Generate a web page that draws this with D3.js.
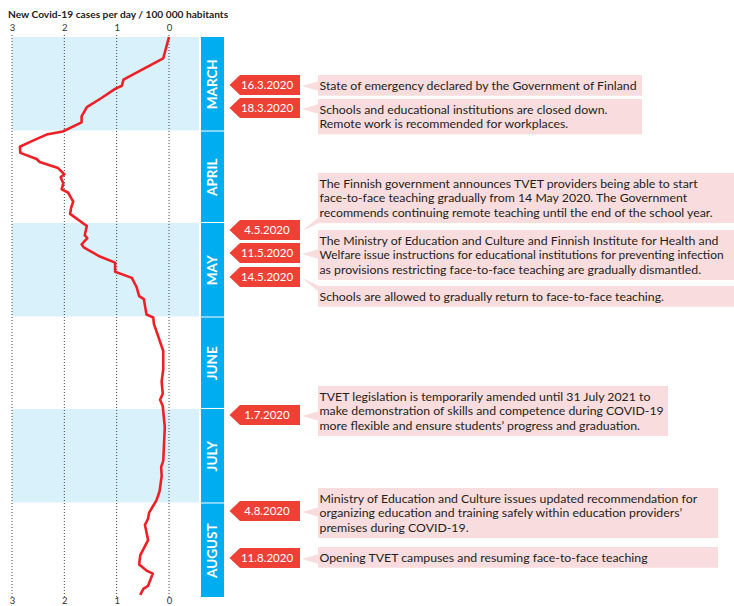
<!DOCTYPE html>
<html>
<head>
<meta charset="utf-8">
<script src="https://d3js.org/d3.v7.min.js"></script>
<style>
  body { margin: 0; background: #fff; }
  svg text { font-family: Lato, "Open Sans", sans-serif; }
</style>
</head>
<body>
<div id="chart"></div>
<script>
// daily new cases per 100 000
var caseDates = [
  "2020-03-01", "2020-03-08", "2020-03-12", "2020-03-15", "2020-03-17", "2020-03-18",
  "2020-03-21", "2020-03-24", "2020-03-27", "2020-03-29", "2020-04-01", "2020-04-02",
  "2020-04-04", "2020-04-06", "2020-04-08", "2020-04-10", "2020-04-11", "2020-04-13",
  "2020-04-15", "2020-04-16", "2020-04-18", "2020-04-20", "2020-04-21", "2020-04-24",
  "2020-04-26", "2020-04-28", "2020-05-02", "2020-05-05", "2020-05-06", "2020-05-08",
  "2020-05-09", "2020-05-12", "2020-05-14", "2020-05-17", "2020-05-19", "2020-05-22",
  "2020-05-25", "2020-05-26", "2020-05-29", "2020-05-31", "2020-06-01", "2020-06-03",
  "2020-06-12", "2020-06-18", "2020-06-22", "2020-06-26", "2020-06-28", "2020-06-30",
  "2020-07-07", "2020-07-18", "2020-07-20", "2020-07-23", "2020-07-28", "2020-07-31",
  "2020-08-02", "2020-08-04", "2020-08-06", "2020-08-08", "2020-08-13", "2020-08-18",
  "2020-08-21", "2020-08-23", "2020-08-24", "2020-08-28", "2020-08-29", "2020-08-31"
];
var caseValues = [
  0.00, 0.11, 0.55, 0.87, 0.90, 1.03,
  1.29, 1.57, 1.67, 1.67, 2.03, 2.34,
  2.60, 2.85, 2.84, 2.53, 2.47, 2.12,
  2.00, 2.07, 2.02, 2.05, 1.93, 1.83,
  1.87, 1.89, 1.57, 1.61, 1.56, 1.67,
  1.63, 1.32, 1.03, 1.03, 0.71, 0.62,
  0.57, 0.48, 0.45, 0.43, 0.30, 0.29,
  0.11, 0.11, 0.14, 0.12, 0.17, 0.12,
  0.08, 0.11, 0.15, 0.14, 0.18, 0.24,
  0.31, 0.38, 0.40, 0.46, 0.40, 0.55,
  0.57, 0.43, 0.31, 0.40, 0.49, 0.55
];

var monthNames = ["MARCH", "APRIL", "MAY", "JUNE", "JULY", "AUGUST"];
var xTicks = [3, 2, 1, 0];

var eventDates = ["16.3.2020", "18.3.2020", "4.5.2020", "11.5.2020", "14.5.2020",
  "1.7.2020", "4.8.2020", "11.8.2020"];
var eventTexts = [
  ["State of emergency declared by the Government of Finland"],
  ["Schools and educational institutions are closed down.",
   "Remote work is recommended for workplaces."],
  ["The Finnish government announces TVET providers being able to start",
   "face-to-face teaching gradually from 14 May 2020. The Government",
   "recommends continuing remote teaching until the end of the school year."],
  ["The Ministry of Education and Culture and Finnish Institute for Health and",
   "Welfare issue instructions for educational institutions for preventing infection",
   "as provisions restricting face-to-face teaching are gradually dismantled."],
  ["Schools are allowed to gradually return to face-to-face teaching."],
  ["TVET legislation is temporarily amended until 31 July 2021 to",
   "make demonstration of skills and competence during COVID-19",
   "more flexible and ensure students\u2019 progress and graduation."],
  ["Ministry of Education and Culture issues updated recommendation for",
   "organizing education and training safely within education providers\u2019",
   "premises during COVID-19."],
  ["Opening TVET campuses and resuming face-to-face teaching"]
];

// annotation layout (hand placed in the original)
var tagMid = [85, 108, 230, 253, 277, 415, 511, 558];
var boxTop = [75, 99, 173, 230, 286, 386, 488, 547];
var boxRight = [642, 642, 734, 734, 734, 668, 718, 718];

var W = 734, H = 606;
var red = "#ee2026", tagRed = "#ef4036", blue = "#00aeef", band = "#d9f1fb", pink = "#f9dcdd";

var parse = d3.timeParse("%Y-%m-%d");
var cases = caseDates.map(function (d, i) { return { date: parse(d), value: caseValues[i] }; });

var svg = d3.select("#chart").append("svg").attr("width", W).attr("height", H);

var x = d3.scaleLinear().domain([3, 0]).range([12, 169]);
var y = d3.scaleTime().domain([new Date(2020, 2, 1), new Date(2020, 8, 1)]).range([37, 598]);

var monthStarts = d3.timeMonth.range(new Date(2020, 2, 1), new Date(2020, 8, 1));
var months = monthStarts.map(function (m, i) {
  return { name: monthNames[i], y0: y(m), y1: y(d3.timeMonth.offset(m, 1)), i: i };
});

// shaded bands for every other month
svg.append("g").selectAll("rect")
  .data(months.filter(function (m) { return m.i % 2 === 0; }))
  .join("rect")
  .attr("x", 12)
  .attr("y", function (m) { return m.y0; })
  .attr("width", 187)
  .attr("height", function (m) { return m.y1 - m.y0 - 1; })
  .attr("fill", band);

// month bar
var mb = svg.append("g").selectAll("g").data(months).join("g");
mb.append("rect")
  .attr("x", 201)
  .attr("y", function (m) { return m.y0; })
  .attr("width", 23)
  .attr("height", function (m) { return m.y1 - m.y0 - 1; })
  .attr("fill", blue);
mb.append("text")
  .attr("transform", function (m) { return "translate(217," + ((m.y0 + m.y1) / 2) + ") rotate(-90)"; })
  .attr("text-anchor", "middle")
  .attr("fill", "#fff")
  .attr("font-weight", "bold")
  .attr("font-size", 13.5)
  .text(function (m) { return m.name; });

// dotted grid + tick labels
var grid = svg.append("g");
grid.selectAll("line").data(xTicks).join("line")
  .attr("x1", x).attr("x2", x)
  .attr("y1", 35).attr("y2", 597)
  .attr("stroke", "#444")
  .attr("stroke-width", 1)
  .attr("stroke-dasharray", "1,2");

var topAxis = d3.axisTop(x).tickValues(xTicks).tickSize(0).tickFormat(d3.format("d"));
var botAxis = d3.axisBottom(x).tickValues(xTicks).tickSize(0).tickFormat(d3.format("d"));
svg.append("g").attr("transform", "translate(0,34)").call(topAxis)
  .call(function (g) { g.select(".domain").remove(); })
  .selectAll("text").attr("font-size", 9.5).attr("fill", "#333").attr("dy", 0);
svg.append("g").attr("transform", "translate(0,604)").call(botAxis)
  .call(function (g) { g.select(".domain").remove(); })
  .selectAll("text").attr("font-size", 9.5).attr("fill", "#333").attr("y", 0).attr("dy", 0);
svg.selectAll(".tick text").style("font-family", "Lato, 'Open Sans', sans-serif");

// the curve
svg.append("path")
  .datum(cases)
  .attr("fill", "none")
  .attr("stroke", red)
  .attr("stroke-width", 2.6)
  .attr("stroke-linejoin", "round")
  .attr("d", d3.line().x(function (d) { return x(d.value); }).y(function (d) { return y(d.date); }));

// title
svg.append("text")
  .attr("x", 8).attr("y", 18)
  .attr("font-weight", "bold")
  .attr("font-size", 10.2)
  .attr("fill", "#222")
  .text("New Covid-19 cases per day / 100 000 habitants");

// events: red date tags + pink callout boxes
var lineH = 14.7;
var events = eventDates.map(function (d, i) {
  var top = boxTop[i];
  var h = eventTexts[i].length * lineH + 6;
  return { date: d, lines: eventTexts[i], mid: tagMid[i], top: top, bottom: top + h, right: boxRight[i] };
});

var ev = svg.append("g").selectAll("g").data(events).join("g");

ev.append("path")
  .attr("fill", tagRed)
  .attr("d", function (e) {
    var t = e.mid - 10, b = e.mid + 10;
    return "M300," + t + "L240," + t + "L229.5," + e.mid + "L240," + b + "L300," + b + "Z";
  });
ev.append("text")
  .attr("x", 267).attr("y", function (e) { return e.mid + 4; })
  .attr("text-anchor", "middle")
  .attr("fill", "#fff")
  .attr("font-size", 11.5)
  .text(function (e) { return e.date; });

ev.append("path")
  .attr("fill", pink)
  .attr("d", function (e) {
    var a = e.mid - 4, b = e.mid + 6;
    if (b > e.bottom) { b = e.bottom; a = b - 6; }
    if (a < e.top) { a = e.top; b = a + 6; }
    return "M302," + (e.mid + 1) + "L319," + a + "L319," + b + "Z";
  });
ev.append("rect")
  .attr("x", 318)
  .attr("y", function (e) { return e.top; })
  .attr("width", function (e) { return e.right - 318; })
  .attr("height", function (e) { return e.bottom - e.top; })
  .attr("fill", pink);

// one <text> per line so each can be sized on its own
var bodySize = 12.3;
ev.each(function (e) {
  var g = d3.select(this);
  e.lines.forEach(function (l, k) {
    var t = g.append("text")
      .attr("x", 319.5)
      .attr("y", e.top + 14.5 + k * lineH)
      .attr("font-size", bodySize)
      .attr("fill", "#231f20")
      .text(l);
    var maxW = Math.min(e.right - 3, 724) - 319.5;
    var len = t.node().getComputedTextLength();
    if (len > maxW) t.attr("font-size", (bodySize * maxW / len).toFixed(2));
  });
});
</script>
</body>
</html>
